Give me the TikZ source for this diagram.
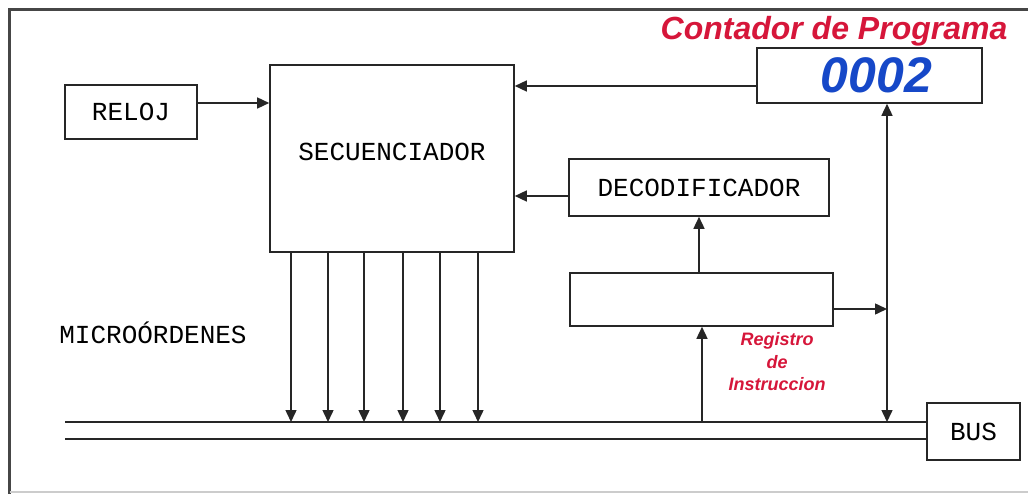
\documentclass[tikz,border=0pt]{standalone}
\usepackage{fontspec}
\setmainfont{Liberation Serif}
\newfontfamily\boxfont{Liberation Mono}
\newfontfamily\labfont{Liberation Sans}
\usetikzlibrary{arrows.meta}
\definecolor{pcred}{RGB}{214,22,58}
\definecolor{pcblue}{RGB}{22,72,200}
\definecolor{framegray}{RGB}{70,70,70}
\tikzset{
  blk/.style={draw=black!85, line width=1.6pt, fill=white, inner sep=0pt,
    font=\boxfont\fontsize{26}{30}\selectfont},
  conn/.style={line width=1.5pt, draw=black!85, -{Triangle[length=12pt,width=11pt]}},
  busline/.style={line width=1.5pt, draw=black!85},
  plain/.style={inner sep=0pt, font=\boxfont\fontsize{26}{30}\selectfont}
}
\begin{document}
\begin{tikzpicture}[x=1pt,y=-1pt]
\useasboundingbox (0,0) rectangle (1028,494);
% frame
\draw[framegray, line width=2.2pt] (1028,9.5) -- (9.5,9.5) -- (9.5,494);
\draw[black!20, line width=1.5pt] (9.5,492) -- (1028,492);

% blocks
\node[blk, minimum width=132pt, minimum height=54pt] (reloj) at (131,112) {RELOJ};
\node[blk, minimum width=244pt, minimum height=187pt, text depth=14pt] (sec) at (392,158.5) {SECUENCIADOR};
\node[blk, minimum width=225pt, minimum height=55pt,
  font=\labfont\bfseries\itshape\fontsize{50}{50}\selectfont, text=pcblue] (pc) at (869.5,75.5) {\hspace{14pt}0002};
\node[blk, minimum width=260pt, minimum height=57pt] (dec) at (699,187.5) {DECODIFICADOR};
\node[blk, minimum width=263pt, minimum height=53pt] (reg) at (701.5,299.5) {};
\node[blk, minimum width=93pt, minimum height=57pt] (bus) at (973.5,431.5) {BUS};

% labels
\node[plain] (micro) at (153,333) {MICROÓRDENES};
\node[inner sep=0pt, text=pcred, font=\labfont\bfseries\itshape\fontsize{32}{34}\selectfont] (pctitle) at (834,31) {Contador de Programa};
\node[inner sep=0pt, text=pcred, align=center, font=\labfont\bfseries\itshape\fontsize{18}{22.5}\selectfont] (regtitle) at (777,362) {Registro\\de\\Instruccion};

% bus lines
\coordinate (b1L) at (65,422);
\coordinate (b2L) at (65,439);
\draw[busline] (b1L) -- (b1L -| bus.west);
\draw[busline] (b2L) -- (b2L -| bus.west);

% connectors
\coordinate (relojout) at ([yshift=9pt]reloj.east);
\draw[conn] (relojout) -- (relojout -| sec.west);
\coordinate (pcout) at ([yshift=-10.5pt]pc.west);
\draw[conn] (pcout) -- (pcout -| sec.east);
\coordinate (decout) at ([yshift=-8.5pt]dec.west);
\draw[conn] (decout) -- (decout -| sec.east);
\draw[conn] (reg.north -| dec.south) -- (dec.south);

\coordinate (vbus) at (887,422);
\coordinate (regout) at ([yshift=-9.5pt]reg.east);
\draw[conn] (regout) -- (regout -| vbus);
\draw[conn, {Triangle[length=12pt,width=11pt]}-{Triangle[length=12pt,width=11pt]}] (vbus) -- (vbus |- pc.south);

\coordinate (regin) at (702,422);
\draw[conn] (regin) -- (regin |- reg.south);

\foreach \x [count=\i] in {291,328,364,403,440,478}{
  \coordinate (m\i) at (\x,422);
  \draw[conn] (m\i |- sec.south) -- (m\i);
}
\end{tikzpicture}
\end{document}
